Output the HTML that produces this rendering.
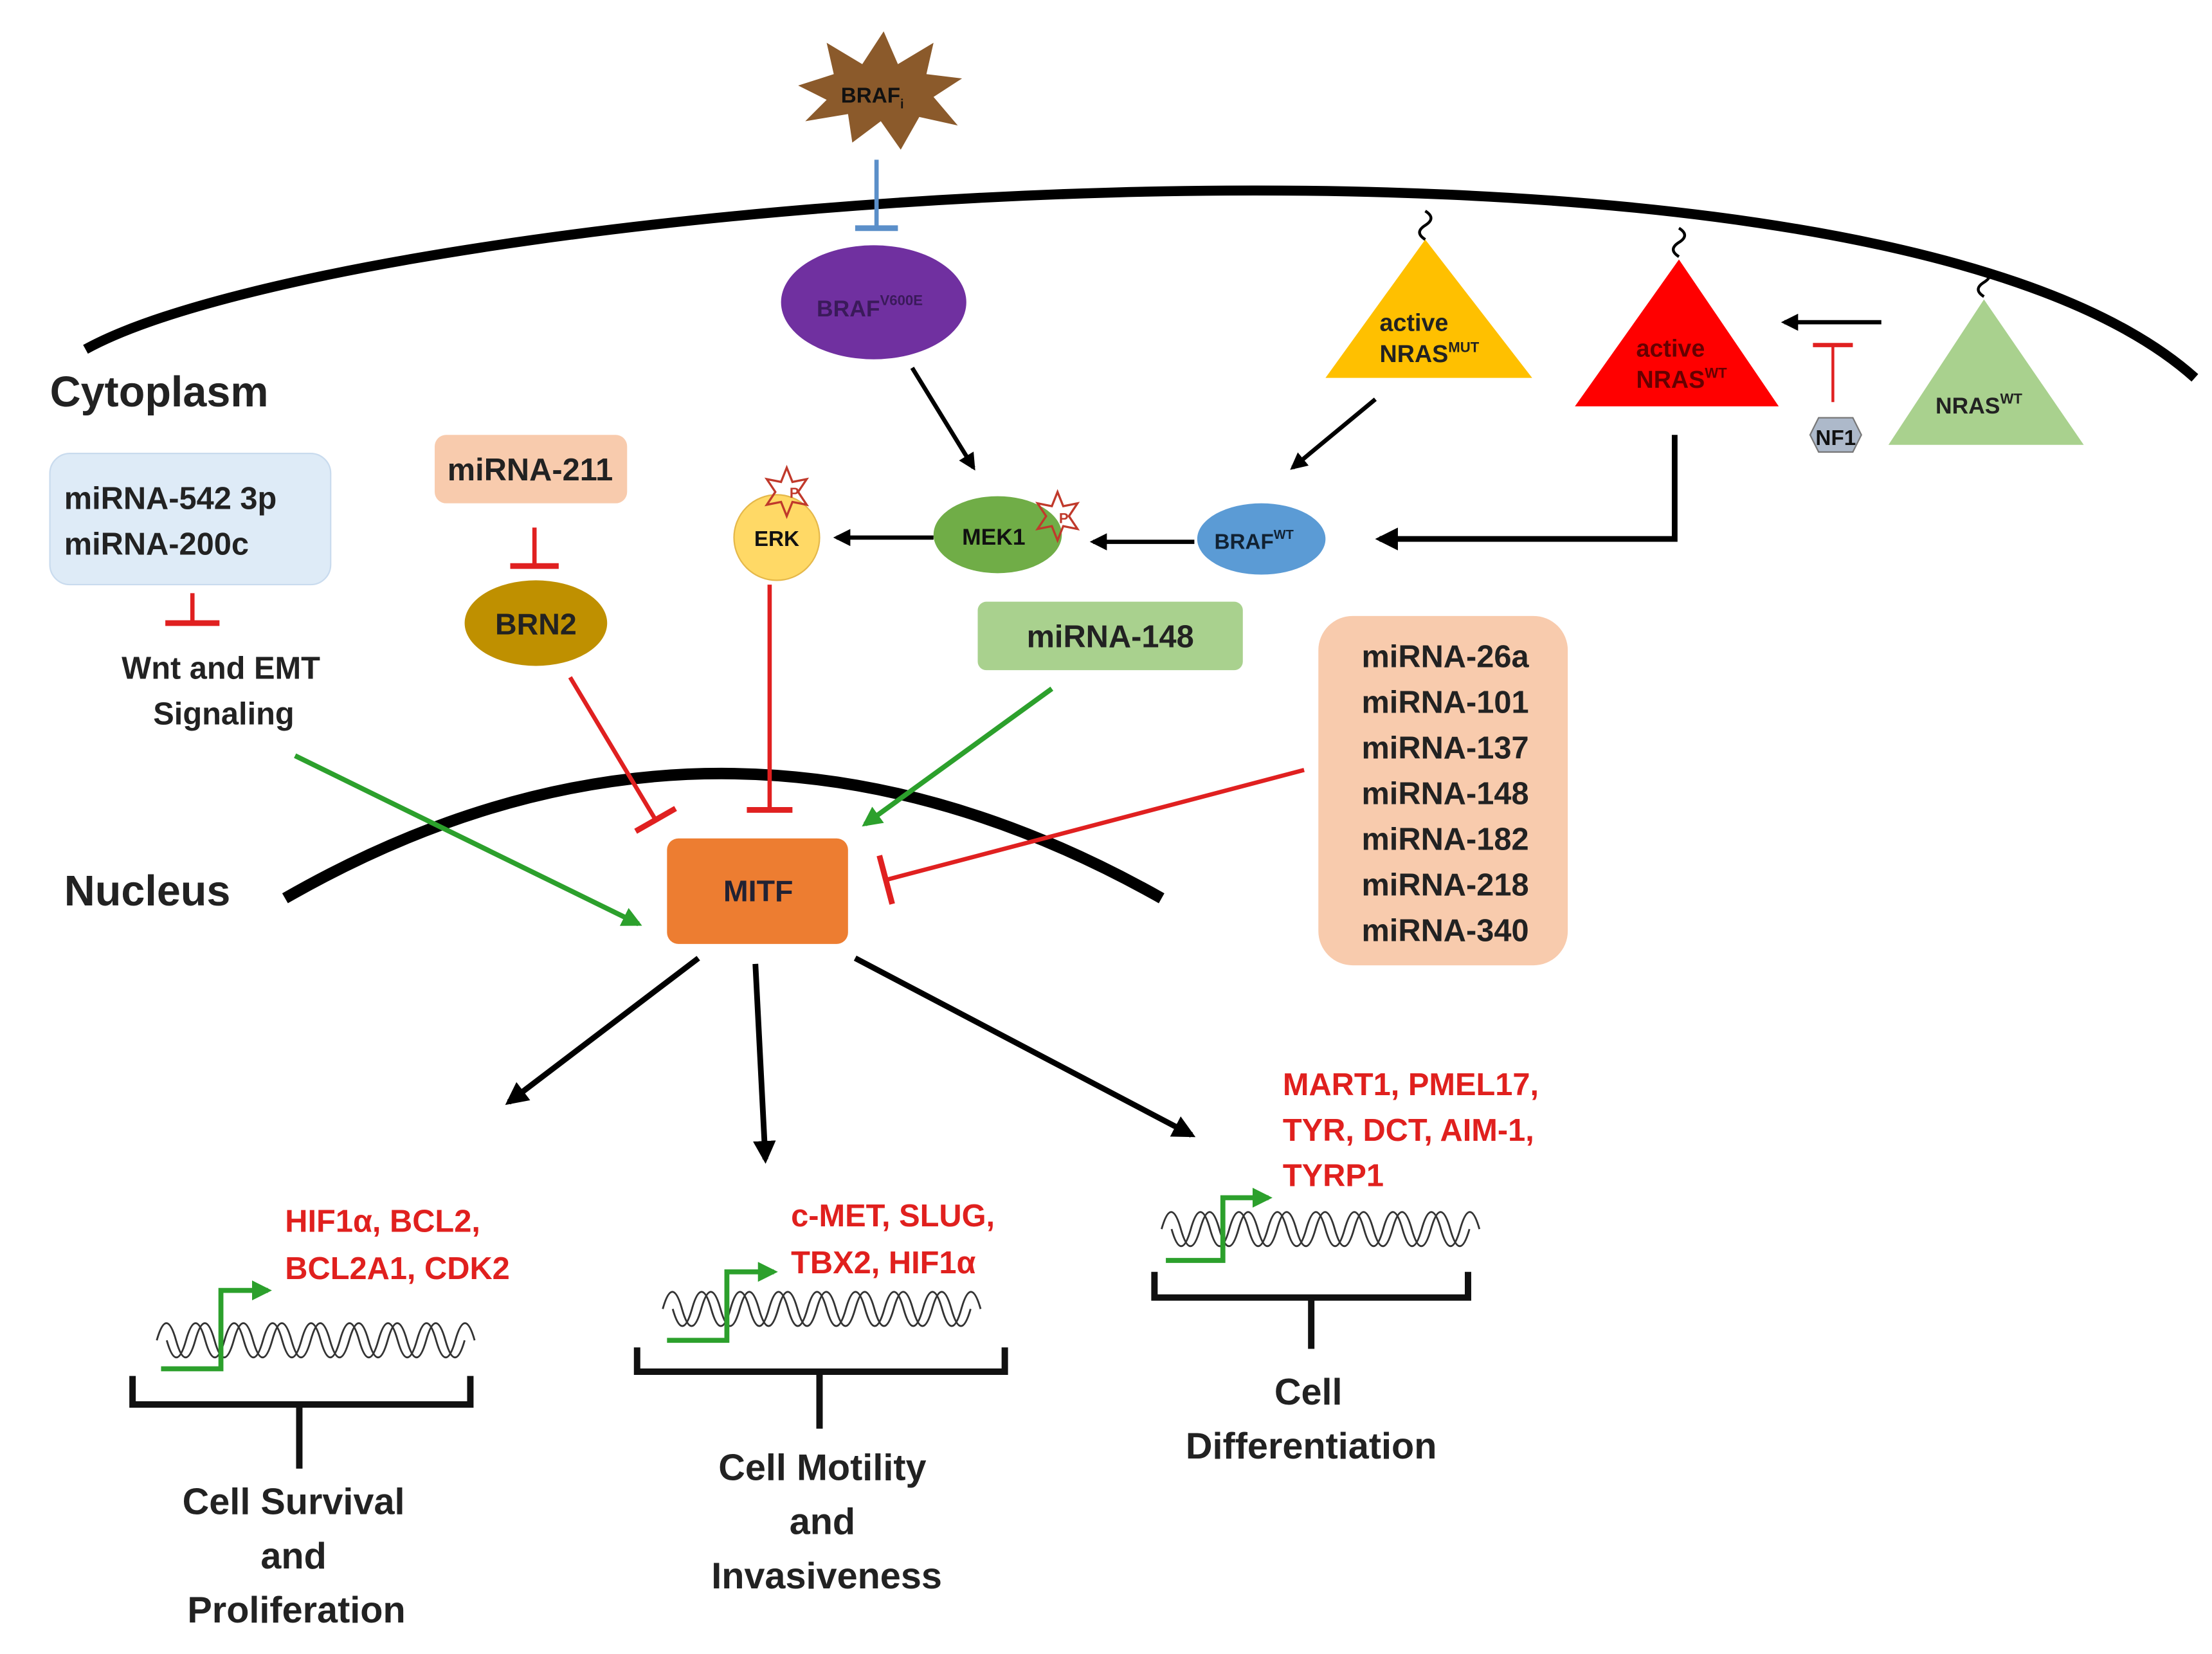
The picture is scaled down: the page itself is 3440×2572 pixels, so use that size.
<!DOCTYPE html>
<html><head><meta charset="utf-8"><style>
html,body{margin:0;padding:0;background:#fff}
svg{display:block}
text{font-family:"Liberation Sans",Arial,sans-serif;font-weight:bold}
</style></head><body>
<svg width="3440" height="2572" viewBox="0 0 1552 1160" preserveAspectRatio="none" xmlns="http://www.w3.org/2000/svg">
<defs>
<marker id="ab" viewBox="0 0 10 10" refX="8" refY="5" markerWidth="4" markerHeight="4" orient="auto-start-reverse"><path d="M0,0 L10,5 L0,10 z" fill="#000"/></marker>
<marker id="ag" viewBox="0 0 10 10" refX="8" refY="5" markerWidth="4" markerHeight="4" orient="auto"><path d="M0,0 L10,5 L0,10 z" fill="#2ca02c"/></marker>
</defs>
<!-- membrane -->
<path d="M60,245 C250,140 1300,50 1540,265" fill="none" stroke="#000" stroke-width="7"/>
<!-- nucleus -->
<path d="M200,630 Q505,455 815,630" fill="none" stroke="#000" stroke-width="8"/>
<text x="35" y="285" font-size="30" fill="#222">Cytoplasm</text>
<text x="45" y="635" font-size="30" fill="#222">Nucleus</text>

<!-- BRAFi star -->
<polygon points="560,60 585,52 580,30 605,45 620,22 630,45 655,30 650,52 675,55 655,68 672,88 645,82 632,105 618,85 598,100 595,80 565,85 580,70" fill="#8B5A2B"/>
<text x="590" y="72" font-size="15" fill="#111">BRAF<tspan font-size="9" dy="4">i</tspan></text>
<line x1="615" y1="112" x2="615" y2="160" stroke="#5B8FC9" stroke-width="3"/>
<line x1="600" y1="160" x2="630" y2="160" stroke="#5B8FC9" stroke-width="4"/>
<ellipse cx="613" cy="212" rx="65" ry="40" fill="#7030A0"/>
<text x="573" y="222" font-size="16" fill="#3a1a5a" font-weight="normal">BRAF<tspan font-size="10" dy="-8">V600E</tspan></text>
<line x1="640" y1="258" x2="683" y2="328" stroke="#000" stroke-width="3" marker-end="url(#ab)"/>

<!-- NRAS triangles -->
<path d="M1000,148 q8,5 0,10 q-8,5 0,10" fill="none" stroke="#000" stroke-width="2"/>
<polygon points="1000,168 930,265 1075,265" fill="#FFC000"/>
<text x="968" y="232" font-size="17" fill="#222">active</text>
<text x="968" y="254" font-size="17" fill="#222">NRAS<tspan font-size="10" dy="-7">MUT</tspan></text>
<path d="M1178,160 q8,5 0,10 q-8,5 0,10" fill="none" stroke="#000" stroke-width="2"/>
<polygon points="1178,182 1105,285 1248,285" fill="#FF0000"/>
<text x="1148" y="250" font-size="17" fill="#600">active</text>
<text x="1148" y="272" font-size="17" fill="#600">NRAS<tspan font-size="10" dy="-7">WT</tspan></text>
<path d="M1392,188 q8,5 0,10 q-8,5 0,10" fill="none" stroke="#000" stroke-width="2"/>
<polygon points="1392,210 1325,312 1462,312" fill="#A9D18E"/>
<text x="1358" y="290" font-size="16" fill="#222">NRAS<tspan font-size="10" dy="-7">WT</tspan></text>
<line x1="1320" y1="226" x2="1252" y2="226" stroke="#000" stroke-width="3" marker-end="url(#ab)"/>
<line x1="1286" y1="282" x2="1286" y2="242" stroke="#e02020" stroke-width="2"/>
<line x1="1272" y1="242" x2="1300" y2="242" stroke="#e02020" stroke-width="3"/>
<polygon points="1270,305 1276,293 1300,293 1306,305 1300,317 1276,317" fill="#ADB9CA" stroke="#777"/>
<text x="1288" y="312" font-size="15" fill="#111" text-anchor="middle">NF1</text>
<line x1="965" y1="280" x2="907" y2="328" stroke="#000" stroke-width="3" marker-end="url(#ab)"/>
<polyline points="1175,305 1175,378 968,378" fill="none" stroke="#000" stroke-width="4" marker-end="url(#ab)"/>

<!-- kinase chain -->
<ellipse cx="885" cy="378" rx="45" ry="25" fill="#5B9BD5"/>
<text x="852" y="385" font-size="15" fill="#123">BRAF<tspan font-size="9" dy="-7">WT</tspan></text>
<line x1="838" y1="380" x2="767" y2="380" stroke="#000" stroke-width="3" marker-end="url(#ab)"/>
<ellipse cx="700" cy="375" rx="45" ry="27" fill="#70AD47"/>
<text x="675" y="382" font-size="16" fill="#111">MEK1</text>
<polygon points="742,345 746,355 756,353 750,362 756,371 746,369 742,379 738,369 728,371 734,362 728,353 738,355" fill="none" stroke="#c0392b" stroke-width="1.5"/>
<text x="743" y="367" font-size="10" fill="#c0392b">P</text>
<line x1="655" y1="377" x2="587" y2="377" stroke="#000" stroke-width="3" marker-end="url(#ab)"/>
<circle cx="545" cy="377" r="30" fill="#FFD966" stroke="#e5b84a"/>
<text x="545" y="383" font-size="15" fill="#111" text-anchor="middle">ERK</text>
<polygon points="552,328 556,338 566,336 560,345 566,354 556,352 552,362 548,352 538,354 544,345 538,336 548,338" fill="none" stroke="#c0392b" stroke-width="1.5"/>
<text x="554" y="349" font-size="10" fill="#c0392b">P</text>
<line x1="540" y1="410" x2="540" y2="568" stroke="#e02020" stroke-width="3"/>
<line x1="524" y1="568" x2="556" y2="568" stroke="#e02020" stroke-width="4"/>

<!-- miRNA-211 / BRN2 -->
<rect x="305" y="305" width="135" height="48" rx="8" fill="#F8CBAD"/>
<text x="372" y="337" font-size="22" fill="#222" text-anchor="middle">miRNA-211</text>
<line x1="375" y1="370" x2="375" y2="397" stroke="#e02020" stroke-width="3"/>
<line x1="358" y1="397" x2="392" y2="397" stroke="#e02020" stroke-width="4"/>
<ellipse cx="376" cy="437" rx="50" ry="30" fill="#BF9000"/>
<text x="376" y="445" font-size="21" fill="#222" text-anchor="middle">BRN2</text>
<line x1="400" y1="475" x2="460" y2="575" stroke="#e02020" stroke-width="3"/>
<line x1="446" y1="583" x2="474" y2="567" stroke="#e02020" stroke-width="4"/>

<!-- miRNA-542 -->
<rect x="35" y="318" width="197" height="92" rx="14" fill="#DEEBF7" stroke="#c9dbee"/>
<text x="45" y="357" font-size="22" fill="#222">miRNA-542 3p</text>
<text x="45" y="389" font-size="22" fill="#222">miRNA-200c</text>
<line x1="135" y1="416" x2="135" y2="437" stroke="#e02020" stroke-width="3"/>
<line x1="116" y1="437" x2="154" y2="437" stroke="#e02020" stroke-width="4"/>
<text x="155" y="476" font-size="22" fill="#222" text-anchor="middle">Wnt and EMT</text>
<text x="157" y="508" font-size="22" fill="#222" text-anchor="middle">Signaling</text>
<line x1="207" y1="530" x2="448" y2="648" stroke="#2ca02c" stroke-width="3.5" marker-end="url(#ag)"/>

<!-- miRNA-148 -->
<rect x="686" y="422" width="186" height="48" rx="6" fill="#A9D18E"/>
<text x="779" y="454" font-size="22" fill="#222" text-anchor="middle">miRNA-148</text>
<line x1="738" y1="483" x2="607" y2="578" stroke="#2ca02c" stroke-width="3.5" marker-end="url(#ag)"/>

<!-- miRNA list -->
<rect x="925" y="432" width="175" height="245" rx="24" fill="#F8CBAD"/>
<g font-size="22" fill="#222" text-anchor="middle">
<text x="1014" y="468">miRNA-26a</text>
<text x="1014" y="500">miRNA-101</text>
<text x="1014" y="532">miRNA-137</text>
<text x="1014" y="564">miRNA-148</text>
<text x="1014" y="596">miRNA-182</text>
<text x="1014" y="628">miRNA-218</text>
<text x="1014" y="660">miRNA-340</text>
</g>
<line x1="915" y1="540" x2="622" y2="617" stroke="#e02020" stroke-width="3"/>
<line x1="617" y1="600" x2="626" y2="634" stroke="#e02020" stroke-width="4"/>

<!-- MITF -->
<rect x="468" y="588" width="127" height="74" rx="8" fill="#ED7D31"/>
<text x="532" y="632" font-size="21" fill="#223" text-anchor="middle">MITF</text>
<line x1="490" y1="672" x2="357" y2="773" stroke="#000" stroke-width="4" marker-end="url(#ab)"/>
<line x1="530" y1="676" x2="537" y2="813" stroke="#000" stroke-width="4" marker-end="url(#ab)"/>
<line x1="600" y1="672" x2="836" y2="796" stroke="#000" stroke-width="4" marker-end="url(#ab)"/>

<g font-size="22" fill="#e0201e">
<text x="200" y="864">HIF1α, BCL2,</text>
<text x="200" y="897">BCL2A1, CDK2</text>
<text x="555" y="860">c-MET, SLUG,</text>
<text x="555" y="893">TBX2, HIF1α</text>
<text x="900" y="768">MART1, PMEL17,</text>
<text x="900" y="800">TYR, DCT, AIM-1,</text>
<text x="900" y="832">TYRP1</text>
</g>
<g fill="none" stroke="#333" stroke-width="1.3">
<path d="M110,940 q6.75,-24 13.5,0 t13.5,0 t13.5,0 t13.5,0 t13.5,0 t13.5,0 t13.5,0 t13.5,0 t13.5,0 t13.5,0 t13.5,0 t13.5,0 t13.5,0 t13.5,0 t13.5,0 t13.5,0"/>
<path d="M117,940 q6.75,24 13.5,0 t13.5,0 t13.5,0 t13.5,0 t13.5,0 t13.5,0 t13.5,0 t13.5,0 t13.5,0 t13.5,0 t13.5,0 t13.5,0 t13.5,0 t13.5,0 t13.5,0 t13.5,0"/>
<path d="M465,918 q6.75,-24 13.5,0 t13.5,0 t13.5,0 t13.5,0 t13.5,0 t13.5,0 t13.5,0 t13.5,0 t13.5,0 t13.5,0 t13.5,0 t13.5,0 t13.5,0 t13.5,0 t13.5,0 t13.5,0"/>
<path d="M472,918 q6.75,24 13.5,0 t13.5,0 t13.5,0 t13.5,0 t13.5,0 t13.5,0 t13.5,0 t13.5,0 t13.5,0 t13.5,0 t13.5,0 t13.5,0 t13.5,0 t13.5,0 t13.5,0 t13.5,0"/>
<path d="M815,862 q6.75,-24 13.5,0 t13.5,0 t13.5,0 t13.5,0 t13.5,0 t13.5,0 t13.5,0 t13.5,0 t13.5,0 t13.5,0 t13.5,0 t13.5,0 t13.5,0 t13.5,0 t13.5,0 t13.5,0"/>
<path d="M822,862 q6.75,24 13.5,0 t13.5,0 t13.5,0 t13.5,0 t13.5,0 t13.5,0 t13.5,0 t13.5,0 t13.5,0 t13.5,0 t13.5,0 t13.5,0 t13.5,0 t13.5,0 t13.5,0 t13.5,0"/>
</g>
<g fill="none" stroke="#2ca02c" stroke-width="3.5">
<polyline points="113,960 155,960 155,905 188,905" marker-end="url(#ag)"/>
<polyline points="468,940 510,940 510,892 543,892" marker-end="url(#ag)"/>
<polyline points="818,884 858,884 858,840 890,840" marker-end="url(#ag)"/>
</g>
<g fill="none" stroke="#111" stroke-width="4.5">
<polyline points="93,965 93,985 330,985 330,965"/>
<line x1="210" y1="985" x2="210" y2="1030"/>
<polyline points="447,945 447,962 705,962 705,945"/>
<line x1="575" y1="962" x2="575" y2="1002"/>
<polyline points="810,892 810,910 1030,910 1030,892"/>
<line x1="920" y1="910" x2="920" y2="946"/>
</g>
<g font-size="26" fill="#222" text-anchor="middle">
<text x="206" y="1062">Cell Survival</text>
<text x="206" y="1100">and</text>
<text x="208" y="1138">Proliferation</text>
<text x="577" y="1038">Cell Motility</text>
<text x="577" y="1076">and</text>
<text x="580" y="1114">Invasiveness</text>
<text x="918" y="985">Cell</text>
<text x="920" y="1023">Differentiation</text>
</g>
</svg>
</body></html>
